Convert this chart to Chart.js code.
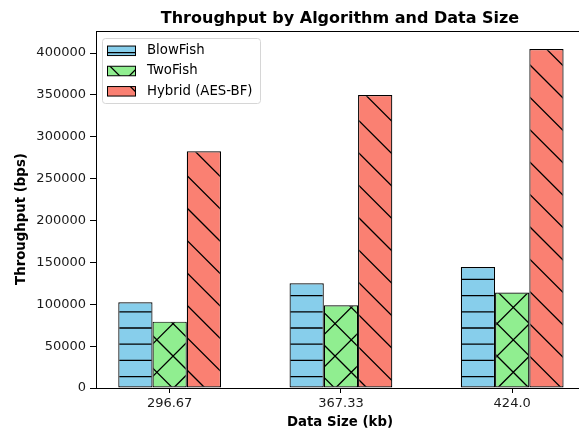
<!DOCTYPE html>
<html lang="en">
<head>
    <meta charset="UTF-8">
    <title>Throughput by Algorithm and Data Size</title>
    <script src="https://cdn.jsdelivr.net/npm/chart.js"></script>
    <style>
        html, body { margin: 0; padding: 0; background: #fff; }
        #wrap { width: 579px; height: 430px; }
    </style>
</head>
<body>
    <div id="wrap"><canvas id="throughputChart" width="579" height="430"></canvas></div>

    <script>
        // Data
        const dataSizes = ['296.67', '367.33', '424.0'];
        const blowFish = [102300, 125000, 144500];
        const twoFish = [79200, 98800, 114000];
        const hybrid = [282600, 349900, 404800];
        const yTicks = [0, 50000, 100000, 150000, 200000, 250000, 300000, 350000, 400000];

        const canvas = document.getElementById('throughputChart');
        const ctxMain = canvas.getContext('2d');

        // matplotlib-like hatches, anchored to the canvas origin
        const TILE = 162, DIAG = 32.4, HORIZ = 16.2;
        function hatchPattern(color, kind) {
            const tile = document.createElement('canvas');
            tile.width = TILE;
            tile.height = TILE;
            const c = tile.getContext('2d');
            c.fillStyle = color;
            c.fillRect(0, 0, TILE, TILE);
            c.strokeStyle = '#000';
            c.lineWidth = 1.3;
            c.beginPath();
            if (kind === '-') {
                for (let k = 0; k < 10; k++) {
                    const y = 4 + k * HORIZ;
                    c.moveTo(0, y);
                    c.lineTo(TILE, y);
                }
            }
            if (kind === '\\' || kind === 'x') {
                for (let k = -6; k <= 6; k++) {
                    const b = 21 + k * DIAG;
                    c.moveTo(-10, b - 10);
                    c.lineTo(TILE + 10, b + TILE + 10);
                }
            }
            if (kind === 'x') {
                for (let k = -1; k <= 11; k++) {
                    const b = 10.7 + k * DIAG;
                    c.moveTo(-10, b + 10);
                    c.lineTo(TILE + 10, b - TILE - 10);
                }
            }
            c.stroke();
            return ctxMain.createPattern(tile, 'repeat');
        }

        const series = [
            { label: 'BlowFish', values: blowFish, fill: hatchPattern('#87CEEB', '-') },
            { label: 'TwoFish', values: twoFish, fill: hatchPattern('#90EE90', 'x') },
            { label: 'Hybrid (AES-BF)', values: hybrid, fill: hatchPattern('#FA8072', '\\') }
        ];

        const FONT = "'DejaVu Sans', sans-serif";

        // title, axis labels, legend and top spine
        const decorations = {
            id: 'decorations',
            afterDraw(chart) {
                const ctx = chart.ctx;
                const area = chart.chartArea;
                ctx.save();

                ctx.strokeStyle = '#000';
                ctx.lineWidth = 1;
                ctx.beginPath();
                ctx.moveTo(area.left, 31.5);
                ctx.lineTo(area.right, 31.5);
                ctx.stroke();

                ctx.fillStyle = '#000';
                ctx.textAlign = 'center';
                ctx.textBaseline = 'alphabetic';
                ctx.font = `bold 16px ${FONT}`;
                ctx.fillText('Throughput by Algorithm and Data Size', 340, 22.5);

                ctx.font = `bold 13.3px ${FONT}`;
                ctx.fillText('Data Size (kb)', 340, 425.5);

                ctx.save();
                ctx.translate(24.7, 219);
                ctx.rotate(-Math.PI / 2);
                ctx.fillText('Throughput (bps)', 0, 0);
                ctx.restore();

                // legend box
                const lx = 102.5, ly = 38.5, lw = 158, lh = 65;
                ctx.beginPath();
                ctx.roundRect(lx, ly, lw, lh, 3);
                ctx.fillStyle = 'rgba(255,255,255,0.8)';
                ctx.fill();
                ctx.strokeStyle = '#d6d6d6';
                ctx.lineWidth = 1;
                ctx.stroke();

                const rows = [50.8, 71, 91.3];
                ctx.font = `13.3px ${FONT}`;
                ctx.textAlign = 'left';
                ctx.textBaseline = 'middle';
                series.forEach((s, i) => {
                    const y = rows[i];
                    ctx.fillStyle = s.fill;
                    ctx.fillRect(107.5, y - 4.75, 28, 9.5);
                    ctx.strokeStyle = '#000';
                    ctx.lineWidth = 1;
                    ctx.strokeRect(107.5, y - 4.75, 28, 9.5);
                    ctx.fillStyle = '#000';
                    ctx.fillText(s.label, 147, y);
                });

                ctx.restore();
            }
        };

        Chart.defaults.color = '#1a1a1a';
        Chart.defaults.font.family = FONT;
        Chart.defaults.font.size = 13;

        new Chart(ctxMain, {
            type: 'bar',
            data: {
                datasets: series.map(s => ({
                    label: s.label,
                    data: s.values.map((v, i) => ({ x: i, y: v })),
                    backgroundColor: s.fill,
                    borderColor: '#000',
                    borderWidth: 1.2,
                    borderSkipped: false,
                    categoryPercentage: 0.6,
                    barPercentage: 1.0
                }))
            },
            options: {
                responsive: false,
                animation: false,
                events: [],
                layout: { padding: { top: 32, left: 0, right: 0, bottom: 0 } },
                plugins: {
                    legend: { display: false },
                    title: { display: false },
                    tooltip: { enabled: false }
                },
                scales: {
                    x: {
                        type: 'linear',
                        offset: false,
                        min: -0.43,
                        max: 2.39,
                        afterBuildTicks: scale => { scale.ticks = dataSizes.map((_, i) => ({ value: i })); },
                        afterFit: scale => { scale.height = 42; },
                        ticks: {
                            padding: 3,
                            maxRotation: 0,
                            callback: value => dataSizes[value]
                        },
                        grid: {
                            offset: false,
                            drawOnChartArea: false,
                            tickLength: 5,
                            tickColor: '#000'
                        },
                        border: { color: '#000', width: 1 }
                    },
                    y: {
                        min: 0,
                        max: 425100,
                        afterBuildTicks: scale => { scale.ticks = yTicks.map(v => ({ value: v })); },
                        afterFit: scale => { scale.width = 96; },
                        ticks: {
                            padding: 4,
                            callback: value => String(value)
                        },
                        grid: {
                            drawOnChartArea: false,
                            tickLength: 6,
                            tickColor: '#000'
                        },
                        border: { color: '#000', width: 1 }
                    }
                }
            },
            plugins: [decorations]
        });
    </script>
</body>
</html>
